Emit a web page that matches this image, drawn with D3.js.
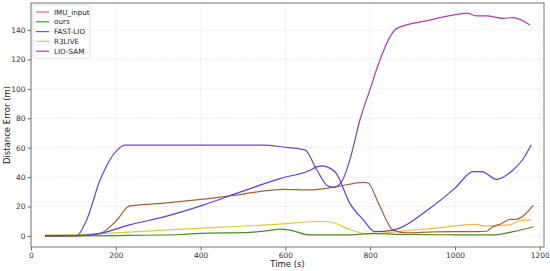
<!DOCTYPE html>
<html>
<head>
<meta charset="utf-8">
<script src="https://cdn.jsdelivr.net/npm/d3@7"></script>
<style>
  body { margin: 0; background: #fff; }
  svg { display: block; font-family: "DejaVu Sans", sans-serif; }
</style>
</head>
<body>
<svg id="chart" width="550" height="271"></svg>
<script>
// values: [time (s), distance error (m)]
const imuInput = [[33,0],[110,0.2],[163,1.8],[200,10],[233,20.4],[300,22],[406,25],[500,28.5],[595,31.7],[658,31.3],[720,33.5],[784,36.5],[795,36],[820,22],[854,4],[885,2.2],[950,2.8],[1050,3],[1075,3.2],[1085,5.5],[1110,8.5],[1130,11.3],[1142,11.2],[1185,21]]
const ours = [[33,0],[200,0.3],[351,1],[399,1.8],[517,2.5],[560,3.6],[587,4.7],[610,4],[658,0.7],[752,0.7],[807,1.8],[870,1.1],[1000,0.8],[1090,0.7],[1137,2.9],[1185,6.3]]
const fastLio = [[33,0],[110,0.2],[163,1.8],[233,7.5],[320,13.5],[406,21],[500,30.5],[587,39],[650,43.7],[685,47.6],[717,43.7],[752,22.2],[784,10.9],[811,2.9],[854,4],[941,18.8],[1000,32.5],[1043,43.7],[1063,43.7],[1098,38.5],[1137,44.9],[1160,52],[1180,62]]
const r3live = [[33,0.8],[150,1.3],[312,4],[450,6],[587,8],[682,10],[713,9],[745,5.2],[784,1.8],[806,1.4],[862,3],[950,5.2],[1051,7.9],[1067,6.8],[1130,7.5],[1153,10.4],[1180,11]]
const lioSam = [[33,0],[108,0.2],[130,10],[163,38],[202,58],[222,61.7],[400,61.7],[548,61.7],[595,60.5],[646,58.5],[674,45],[697,34.7],[713,33],[733,37],[752,51.7],[776,79],[800,100],[823,119.6],[847,135.5],[862,141],[941,146.8],[1012,151],[1028,151.5],[1051,149.6],[1075,149.6],[1114,148],[1137,148.4],[1177,143.4]]

const seriesNames = ['IMU_input', 'ours', 'FAST-LIO', 'R3LIVE', 'LIO-SAM']
const seriesData = [imuInput, ours, fastLio, r3live, lioSam]
const lineColors = ['#a5613c', '#4c8a2c', '#5a3fe0', 'url(#r3Grad)', 'url(#samGrad)']
const legendColors = ['#f4606a', '#3c9a3c', '#5a5af0', '#ffb870', '#b03cb0']
const xTicks = [0, 200, 400, 600, 800, 1000, 1200]
const yTicks = [0, 20, 40, 60, 80, 100, 120, 140]

const margin = {top: 3, right: 6, bottom: 24, left: 31}
const width = 550
const height = 271

const svg = d3.select('#chart')

const x = d3.scaleLinear().domain([0, 1210]).range([margin.left, width - margin.right])
const y = d3.scaleLinear().domain([-7.5, 158.4]).range([height - margin.bottom, margin.top])

// grid
svg.append('g')
  .selectAll('line')
  .data(xTicks)
  .join('line')
  .attr('x1', d => x(d)).attr('x2', d => x(d))
  .attr('y1', margin.top).attr('y2', height - margin.bottom)
  .attr('stroke', '#d8d8d8').attr('stroke-width', 0.7).attr('stroke-dasharray', '1,1.5')
svg.append('g')
  .selectAll('line')
  .data(yTicks)
  .join('line')
  .attr('x1', margin.left).attr('x2', width - margin.right)
  .attr('y1', d => y(d)).attr('y2', d => y(d))
  .attr('stroke', '#d8d8d8').attr('stroke-width', 0.7).attr('stroke-dasharray', '1,1.5')

const defs = svg.append('defs')
// LIO-SAM: purple lower part, magenta upper part
const grad = defs.append('linearGradient')
  .attr('id', 'samGrad')
  .attr('gradientUnits', 'userSpaceOnUse')
  .attr('x1', 0).attr('x2', 0)
  .attr('y1', y(55)).attr('y2', y(110))
grad.append('stop').attr('offset', 0).attr('stop-color', '#6848bc')
grad.append('stop').attr('offset', 1).attr('stop-color', '#b23cac')
// R3LIVE: yellow first, more orange later
const grad2 = defs.append('linearGradient')
  .attr('id', 'r3Grad')
  .attr('gradientUnits', 'userSpaceOnUse')
  .attr('x1', x(780)).attr('x2', x(880))
  .attr('y1', 0).attr('y2', 0)
grad2.append('stop').attr('offset', 0).attr('stop-color', '#d8cc38')
grad2.append('stop').attr('offset', 1).attr('stop-color', '#eeb850')

const line = d3.line()
  .x(d => x(d[0]))
  .y(d => y(d[1]))
  .curve(d3.curveMonotoneX)

const order = [3, 1, 0, 2, 4]
svg.append('g')
  .attr('fill', 'none')
  .selectAll('path')
  .data(order)
  .join('path')
  .attr('d', i => line(seriesData[i]))
  .attr('stroke', i => lineColors[i])
  .attr('stroke-width', 1.2)
  .attr('stroke-linejoin', 'round')

// axes
const xAxis = svg.append('g')
  .attr('transform', `translate(0,${height - margin.bottom})`)
  .call(d3.axisBottom(x).tickValues(xTicks).tickFormat(d3.format('d')).tickSize(3.5).tickPadding(2))
const yAxis = svg.append('g')
  .attr('transform', `translate(${margin.left},0)`)
  .call(d3.axisLeft(y).tickValues(yTicks).tickFormat(d3.format('d')).tickSize(3.5).tickPadding(2))
for (const ax of [xAxis, yAxis]) {
  ax.select('.domain').remove()
  ax.selectAll('line').attr('stroke', '#333').attr('stroke-width', 0.7)
  ax.selectAll('text').attr('font-size', 7.5).attr('fill', '#333').attr('font-family', '"DejaVu Sans", sans-serif')
}

// frame
svg.append('rect')
  .attr('x', margin.left).attr('y', margin.top)
  .attr('width', width - margin.left - margin.right)
  .attr('height', height - margin.top - margin.bottom)
  .attr('fill', 'none').attr('stroke', '#555').attr('stroke-width', 0.8)

svg.append('text')
  .attr('x', (margin.left + width - margin.right) / 2)
  .attr('y', 267)
  .attr('text-anchor', 'middle')
  .attr('font-size', 8.5).attr('fill', '#222')
  .text('Time (s)')
svg.append('text')
  .attr('transform', `translate(10,${(margin.top + height - margin.bottom) / 2}) rotate(-90)`)
  .attr('text-anchor', 'middle')
  .attr('font-size', 8.5).attr('fill', '#222')
  .text('Distance Error (m)')

// legend
const lg = svg.append('g').attr('transform', `translate(${margin.left + 2},${margin.top + 2})`)
lg.append('rect')
  .attr('width', 57).attr('height', 53).attr('rx', 1.5)
  .attr('fill', '#fff').attr('fill-opacity', 0.8)
  .attr('stroke', '#ccc').attr('stroke-width', 0.6)
const items = lg.selectAll('g')
  .data(seriesNames)
  .join('g')
  .attr('transform', (d, i) => `translate(0,${7 + i * 9.8})`)
items.append('line')
  .attr('x1', 3).attr('x2', 16)
  .attr('stroke', (d, i) => legendColors[i]).attr('stroke-width', 1.2)
items.append('text')
  .attr('x', 21).attr('dy', '0.35em')
  .attr('font-size', 7.2).attr('fill', '#222')
  .text(d => d)
</script>
</body>
</html>
